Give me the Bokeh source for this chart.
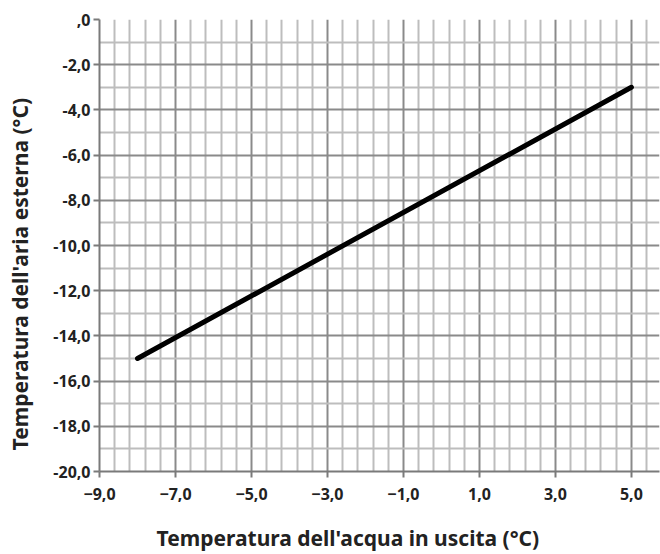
import numpy as np
from bokeh.plotting import figure
from bokeh.models import FixedTicker, Range1d, Title
from bokeh.embed import file_html
from bokeh.resources import INLINE

# Data
x_vals = [-8.0, 5.0]
y_vals = [-15.0, -3.0]

x_ticks = [-9, -7, -5, -3, -1, 1, 3, 5]
x_tick_labels = ["−9,0", "−7,0", "−5,0", "−3,0", "−1,0", "1,0", "3,0", "5,0"]
y_ticks = [0, -2, -4, -6, -8, -10, -12, -14, -16, -18, -20]
y_tick_labels = [",0", "-2,0", "-4,0", "-6,0", "-8,0", "-10,0", "-12,0", "-14,0",
                 "-16,0", "-18,0", "-20,0"]

x_title = "Temperatura dell'acqua in uscita (°C)"
y_title = "Temperatura dell'aria esterna (°C)"

FONT = "Noto Sans"

p = figure(width=660, height=554, output_backend="svg", toolbar_location=None,
           x_range=Range1d(-9, 5.74), y_range=Range1d(-20, 0),
           min_border_left=99, min_border_right=1, min_border_top=19,
           min_border_bottom=83)
p.outline_line_color = None

# Axes
p.xaxis.ticker = FixedTicker(ticks=x_ticks)
p.yaxis.ticker = FixedTicker(ticks=y_ticks)
p.xaxis.major_label_overrides = {t: l for t, l in zip(x_ticks, x_tick_labels)}
p.yaxis.major_label_overrides = {t: l for t, l in zip(y_ticks, y_tick_labels)}
for ax in (p.xaxis[0], p.yaxis[0]):
    ax.axis_line_color = "#7a7a7a"
    ax.axis_line_width = 2
    ax.major_tick_line_color = "#7a7a7a"
    ax.major_tick_line_width = 2
    ax.major_tick_out = 6
    ax.major_tick_in = 0
    ax.minor_tick_line_color = None
    ax.major_label_text_font = FONT
    ax.major_label_text_font_style = "bold"
    ax.major_label_text_font_size = "16px"
    ax.major_label_text_color = "#222222"
p.xaxis.major_label_standoff = 10
p.yaxis.major_label_standoff = 3

# Grids
x_minor = [round(v, 2) for v in np.arange(-9, 6.0, 0.4) if round(v, 2) not in x_ticks]
y_minor = [v for v in range(-19, 0, 2)]
p.xgrid[0].ticker = FixedTicker(ticks=x_ticks, minor_ticks=x_minor)
p.ygrid[0].ticker = FixedTicker(ticks=y_ticks, minor_ticks=y_minor)
for g in (p.xgrid[0], p.ygrid[0]):
    g.grid_line_color = "#8a8a8a"
    g.grid_line_width = 2
    g.minor_grid_line_color = "#bdbdbd"
    g.minor_grid_line_width = 2

p.line(x_vals, y_vals, line_width=5, line_color="black", line_cap="round")

# spacers, then axis titles
p.add_layout(Title(text=" ", text_font_size="1px", standoff=17), "below")
p.add_layout(Title(text=x_title, align="left", offset=57, standoff=0,
                   vertical_align="middle", text_font=FONT, text_font_style="bold",
                   text_font_size="21px", text_color="#222222"), "below")
p.add_layout(Title(text=" ", text_font_size="1px", standoff=13), "left")
p.add_layout(Title(text=y_title, align="left", offset=21, standoff=0,
                   vertical_align="middle", text_font=FONT, text_font_style="bold",
                   text_font_size="21px", text_color="#222222"), "left")

open("out.html", "w").write(file_html(p, INLINE))
